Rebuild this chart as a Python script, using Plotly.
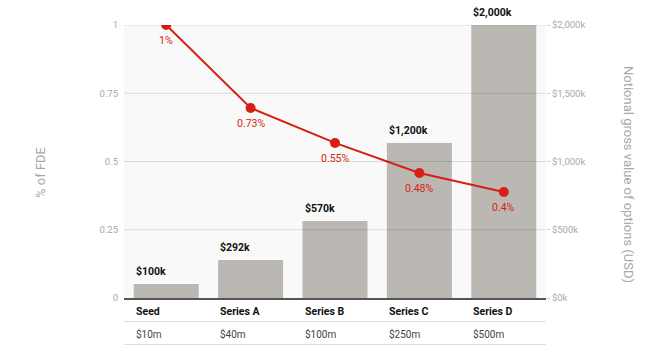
import plotly.graph_objects as go

# ---- data ----
categories = ["Seed", "Series A", "Series B", "Series C", "Series D"]
valuations = ["$10m", "$40m", "$100m", "$250m", "$500m"]
option_value_k = [103, 278, 564, 1135, 2000]          # bar heights (right axis, $k)
option_labels = ["$100k", "$292k", "$570k", "$1,200k", "$2,000k"]
fde_pct = [1.0, 0.696, 0.568, 0.458, 0.388]           # line positions (left axis)
fde_labels = ["1%", "0.73%", "0.55%", "0.48%", "0.4%"]
left_ticks = [0, 0.25, 0.5, 0.75, 1]
left_ticklabels = ["0", "0.25", "0.5", "0.75", "1"]
right_ticks = [0, 500, 1000, 1500, 2000]
right_ticklabels = ["$0k", "$500k", "$1,000k", "$1,500k", "$2,000k"]

FONT = "Roboto"
RED = "#d71f14"
BAR = "#bbb7b3"
GREY_TXT = "#a8a8a8"

L, R, T, B = 124, 122, 25, 57
W, H = 668, 355
plot_h = H - T - B
x = list(range(len(categories)))

fig = go.Figure()
# bars on the base axis (right side), line on the overlay axis (left side) so it draws on top
fig.add_trace(go.Bar(x=x, y=option_value_k, marker=dict(color=BAR, line=dict(width=0)),
                     yaxis="y", hoverinfo="skip"))
fig.add_trace(go.Scatter(x=x, y=fde_pct, mode="lines+markers", yaxis="y2",
                         line=dict(color=RED, width=2),
                         marker=dict(color=RED, size=10), hoverinfo="skip"))

ann = []
half_bar = (1 - 0.23) / 2
for i, (v, lab) in enumerate(zip(option_value_k, option_labels)):
    ann.append(dict(x=i - half_bar, y=v, xref="x", yref="y", text=f"<b>{lab}</b>",
                    showarrow=False, xanchor="left", yanchor="bottom", yshift=4,
                    font=dict(family=FONT, size=10.5, color="#111")))
for i, (v, lab) in enumerate(zip(fde_pct, fde_labels)):
    ann.append(dict(x=i, y=v, xref="x", yref="y2", text=lab, showarrow=False,
                    xanchor="center", yanchor="top", yshift=-7,
                    font=dict(family=FONT, size=10.5, color=RED)))

def py(p):
    return (H - B - p) / plot_h

for i, (c, val) in enumerate(zip(categories, valuations)):
    ann.append(dict(x=i - half_bar, y=py(311), xref="x", yref="paper", text=f"<b>{c}</b>",
                    showarrow=False, xanchor="left", yanchor="middle",
                    font=dict(family=FONT, size=10.5, color="#111")))
    ann.append(dict(x=i - half_bar, y=py(334), xref="x", yref="paper", text=val,
                    showarrow=False, xanchor="left", yanchor="middle",
                    font=dict(family=FONT, size=10, color="#444")))

ann.append(dict(x=(40 - L) / (W - L - R), y=py(173), xref="paper", yref="paper", text="% of FDE",
                textangle=-90, showarrow=False, xanchor="center", yanchor="middle",
                font=dict(family=FONT, size=13, color=GREY_TXT)))
ann.append(dict(x=(629 - L) / (W - L - R), y=py(174), xref="paper", yref="paper",
                text="Notional gross value of options (USD)",
                textangle=90, showarrow=False, xanchor="center", yanchor="middle",
                font=dict(family=FONT, size=13, color=GREY_TXT)))

shapes = []
for t in left_ticks[1:]:
    shapes.append(dict(type="line", xref="paper", yref="y2", x0=0, x1=1, y0=t, y1=t,
                       line=dict(color="rgba(0,0,0,0.12)", width=1), layer="above"))
for p in (321.5, 344.5):
    shapes.append(dict(type="line", xref="paper", yref="paper", x0=0, x1=1, y0=py(p), y1=py(p),
                       line=dict(color="#dddddd", width=1), layer="above"))

fig.update_layout(
    width=W, height=H,
    margin=dict(l=L, r=R, t=T, b=B, pad=0),
    paper_bgcolor="white", plot_bgcolor="#f9f9f9",
    showlegend=False, bargap=0.23,
    font=dict(family=FONT),
    xaxis=dict(range=[-0.5, len(categories) - 0.5], showticklabels=False, ticks="",
               showgrid=False, zeroline=False, showline=True, linecolor="#555555",
               linewidth=2, fixedrange=True, layer="above traces"),
    yaxis=dict(range=[0, 2000], tickvals=right_ticks, ticktext=right_ticklabels,
               side="right", showgrid=False, zeroline=False,
               ticks="outside", ticklen=3, tickcolor="#cccccc",
               tickfont=dict(family=FONT, size=9.5, color=GREY_TXT), fixedrange=True),
    yaxis2=dict(range=[0, 1], tickvals=left_ticks, ticktext=left_ticklabels,
                overlaying="y", side="left", showgrid=False, zeroline=False, ticks="",
                ticklabelstandoff=5,
                tickfont=dict(family=FONT, size=9.5, color=GREY_TXT), fixedrange=True),
    annotations=ann, shapes=shapes,
)

fig.write_html("out.html", config={"displayModeBar": False},
               post_script="document.body.style.margin='0';")
